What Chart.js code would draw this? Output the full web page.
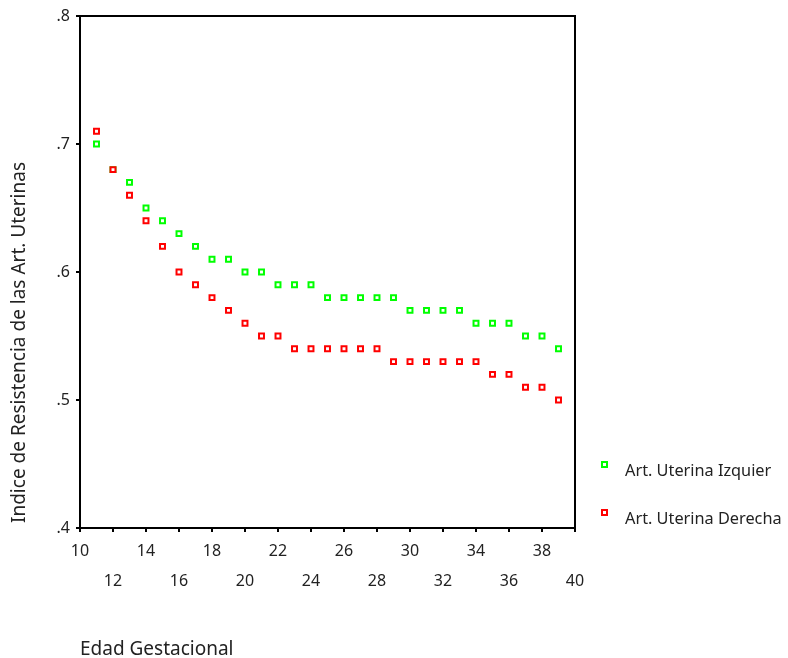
<!DOCTYPE html>
<html lang="es">
  <head>
    <meta charset="UTF-8" />
    <title>Indice de Resistencia</title>
    <script src="https://cdn.jsdelivr.net/npm/chart.js"></script>
    <style>
      body { margin: 0; background: #fff; }
      .wrap { position: relative; width: 788px; height: 658px; }
      .legend-item {
        position: absolute;
        font: 16.3px/22px "Noto Sans", sans-serif;
        color: #222;
        white-space: nowrap;
      }
      .legend-item span {
        position: absolute;
        left: -24px;
        top: 2px;
        width: 3px;
        height: 3px;
        border: 2px solid;
        background: #fff;
      }
    </style>
  </head>
  <body>
    <div class="wrap">
      <canvas id="chart" width="788" height="658"></canvas>
      <div class="legend-item" style="left: 625px; top: 459px">
        <span style="border-color: #00ff00"></span>Art. Uterina Izquier
      </div>
      <div class="legend-item" style="left: 625px; top: 507px">
        <span style="border-color: #ff0000"></span>Art. Uterina Derecha
      </div>
    </div>

    <script>
      // datos
      const edades = [11, 12, 13, 14, 15, 16, 17, 18, 19, 20, 21, 22, 23, 24, 25,
        26, 27, 28, 29, 30, 31, 32, 33, 34, 35, 36, 37, 38, 39];
      const izquierda = [0.70, 0.68, 0.67, 0.65, 0.64, 0.63, 0.62, 0.61, 0.61, 0.60,
        0.60, 0.59, 0.59, 0.59, 0.58, 0.58, 0.58, 0.58, 0.58, 0.57, 0.57, 0.57,
        0.57, 0.56, 0.56, 0.56, 0.55, 0.55, 0.54];
      const derecha = [0.71, 0.68, 0.66, 0.64, 0.62, 0.60, 0.59, 0.58, 0.57, 0.56,
        0.55, 0.55, 0.54, 0.54, 0.54, 0.54, 0.54, 0.54, 0.53, 0.53, 0.53, 0.53,
        0.53, 0.53, 0.52, 0.52, 0.51, 0.51, 0.50];
      const xTicks = [10, 12, 14, 16, 18, 20, 22, 24, 26, 28, 30, 32, 34, 36, 38, 40];
      const yTicks = [0.4, 0.5, 0.6, 0.7, 0.8];

      const toPoints = (vals) => vals.map((v, i) => ({ x: edades[i], y: v }));
      const fuente = { family: "Noto Sans", size: 16 };

      // marco y títulos
      const marco = {
        id: "marco",
        afterDraw(chart) {
          const { ctx, chartArea: a } = chart;
          ctx.save();
          ctx.strokeStyle = "#000";
          ctx.lineWidth = 2;
          ctx.strokeRect(a.left, a.top, a.right - a.left, a.bottom - a.top);
          ctx.fillStyle = "#222";
          ctx.font = '19px "Noto Sans"';
          ctx.textBaseline = "alphabetic";
          ctx.textAlign = "left";
          ctx.fillText("Edad Gestacional", 80, 655);
          ctx.translate(25, 523);
          ctx.rotate(-Math.PI / 2);
          ctx.fillText("Indice de Resistencia de las Art. Uterinas", 0, 0);
          ctx.restore();
        },
      };

      new Chart(document.getElementById("chart"), {
        type: "scatter",
        data: {
          datasets: [
            {
              label: "Art. Uterina Izquier",
              data: toPoints(izquierda),
              borderColor: "#00ff00",
              backgroundColor: "#ffffff",
              order: 1,
            },
            {
              label: "Art. Uterina Derecha",
              data: toPoints(derecha),
              borderColor: "#ff0000",
              backgroundColor: "#ffffff",
              order: 0,
            },
          ],
        },
        options: {
          responsive: false,
          animation: false,
          elements: {
            point: { pointStyle: "rect", radius: 3.5, borderWidth: 2 },
          },
          layout: { padding: { top: 16, right: 213, left: 0, bottom: 0 } },
          plugins: { legend: { display: false }, tooltip: { enabled: false } },
          scales: {
            x: {
              min: 10,
              max: 40,
              afterBuildTicks: (s) => { s.ticks = xTicks.map((v) => ({ value: v })); },
              afterFit: (s) => { s.height = 130; },
              grid: { drawOnChartArea: false, color: "#000", tickLength: 4, lineWidth: 2 },
              border: { display: false },
              ticks: {
                color: "#222",
                font: { ...fuente, lineHeight: 1.9 },
                padding: 4,
                maxRotation: 0,
                autoSkip: false,
                callback: (v, i) => (i % 2 === 0 ? [String(v)] : ["", String(v)]),
              },
            },
            y: {
              min: 0.4,
              max: 0.8,
              afterBuildTicks: (s) => { s.ticks = yTicks.map((v) => ({ value: v })); },
              afterFit: (s) => { s.width = 80; },
              grid: { drawOnChartArea: false, color: "#000", tickLength: 4, lineWidth: 2 },
              border: { display: false },
              ticks: {
                color: "#222",
                font: fuente,
                padding: 6,
                callback: (v) => v.toFixed(1).replace(/^0/, ""),
              },
            },
          },
        },
        plugins: [marco],
      });
    </script>
  </body>
</html>
